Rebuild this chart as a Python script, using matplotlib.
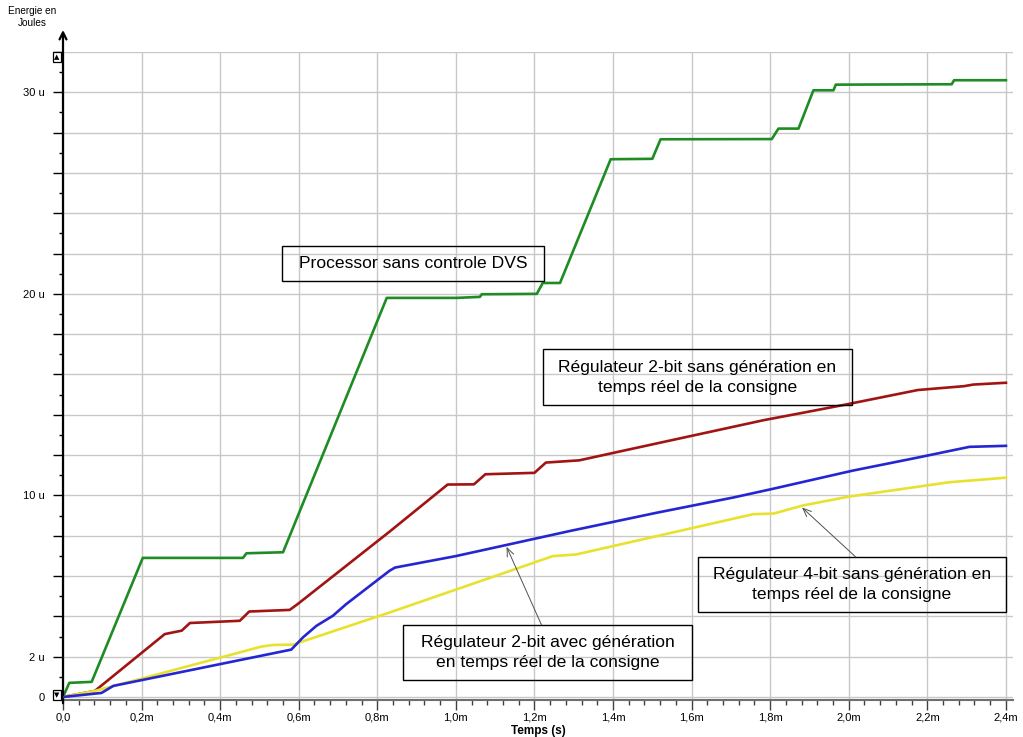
import matplotlib
matplotlib.use('Agg')
import matplotlib.pyplot as plt
from matplotlib.patches import Rectangle
from matplotlib.ticker import MultipleLocator, FuncFormatter

plt.rcParams['font.family'] = ['Liberation Sans', 'DejaVu Sans']

# ---------- DONNEES (temps en ms, energie en uJ) ----------

# Processor sans controle DVS
t_green = [0.0, 0.016, 0.073, 0.203, 0.458, 0.467, 0.56, 0.824, 1.002, 1.061, 1.066,
           1.206, 1.221, 1.265, 1.394, 1.500, 1.521, 1.804, 1.821, 1.872, 1.91,
           1.961, 1.967, 2.262, 2.268, 2.4]
e_green = [0.0, 0.7, 0.75, 6.9, 6.9, 7.13, 7.18, 19.8, 19.8, 19.85, 19.98,
           20.0, 20.54, 20.54, 26.68, 26.7, 27.67, 27.68, 28.2, 28.2, 30.1,
           30.1, 30.38, 30.4, 30.6, 30.6]

# Regulateur 2-bit sans generation
t_red = [0.0, 0.081, 0.259, 0.302, 0.323, 0.450, 0.474, 0.577, 0.598, 0.831, 0.979,
         1.046, 1.075, 1.2, 1.229, 1.314, 1.410, 1.785, 1.883, 1.99, 2.176, 2.293,
         2.317, 2.4]
e_red = [0.0, 0.3, 3.12, 3.29, 3.67, 3.78, 4.24, 4.32, 4.62, 8.2, 10.54,
         10.55, 11.05, 11.12, 11.63, 11.74, 12.15, 13.74, 14.1, 14.5, 15.23, 15.42,
         15.5, 15.59]

# Regulateur 4-bit sans generation
t_yellow = [0.0, 0.081, 0.196, 0.505, 0.535, 0.586, 0.831, 1.247, 1.306, 1.757,
            1.809, 1.883, 2.0, 2.254, 2.4]
e_yellow = [0.0, 0.3, 0.89, 2.5, 2.58, 2.6, 4.19, 6.99, 7.07, 9.07,
            9.1, 9.5, 9.94, 10.65, 10.88]

# Regulateur 2-bit avec generation
t_blue = [0.0, 0.098, 0.128, 0.581, 0.611, 0.645, 0.687, 0.721, 0.831, 0.845, 1.0,
          1.289, 1.511, 1.707, 1.805, 2.01, 2.176, 2.307, 2.4]
e_blue = [0.0, 0.2, 0.55, 2.35, 2.96, 3.53, 4.03, 4.61, 6.26, 6.42, 6.99,
          8.23, 9.14, 9.9, 10.32, 11.23, 11.88, 12.41, 12.46]

y_labels = {0: '0', 2: '2 u', 10: '10 u', 20: '20 u', 30: '30 u'}

label_green = "Processor sans controle DVS"
label_red = "Régulateur 2-bit sans génération en\ntemps réel de la consigne"
label_blue = "Régulateur 2-bit avec génération\nen temps réel de la consigne"
label_yellow = "Régulateur 4-bit sans génération en\ntemps réel de la consigne"


def fmt_x(v, pos):
    if abs(v) < 1e-9:
        return '0,0'
    return f"{v:.1f}m".replace('.', ',')


def fmt_y(v, pos):
    return y_labels.get(int(round(v)), '')


def boxed_label(ax, t0, t1, e0, e1, text):
    # cadre transparent + texte centre
    ax.add_patch(Rectangle((t0, e0), t1 - t0, e1 - e0, fill=False,
                           edgecolor='black', linewidth=1.0, zorder=6))
    ax.text((t0 + t1) / 2, (e0 + e1) / 2, text, ha='center', va='center',
            fontsize=12.6, linespacing=1.45, zorder=7)


def plot_energy():
    fig = plt.figure(figsize=(10.23, 7.37), dpi=100)
    ax = fig.add_axes([63 / 1023, 37 / 737, 950 / 1023, 648 / 737])

    ax.plot(t_green, e_green, color='#1e8c23', lw=1.9, zorder=3)
    ax.plot(t_red, e_red, color='#a01414', lw=1.9, zorder=3)
    ax.plot(t_yellow, e_yellow, color='#e8e22e', lw=1.9, zorder=3)
    ax.plot(t_blue, e_blue, color='#2525d2', lw=1.9, zorder=4)

    ax.set_xlim(0, 2.418)
    ax.set_ylim(-0.15, 32)

    ax.xaxis.set_major_locator(MultipleLocator(0.2))
    ax.xaxis.set_minor_locator(MultipleLocator(0.04))
    ax.yaxis.set_major_locator(MultipleLocator(2))
    ax.yaxis.set_minor_locator(MultipleLocator(1))
    ax.xaxis.set_major_formatter(FuncFormatter(fmt_x))
    ax.yaxis.set_major_formatter(FuncFormatter(fmt_y))

    ax.grid(True, which='major', color='#c8c8c8', lw=1.0, zorder=0)
    ax.set_axisbelow(True)

    ax.tick_params(axis='x', which='major', length=7, width=1, color='#404040',
                   labelsize=8, pad=2)
    ax.tick_params(axis='x', which='minor', length=3.5, width=1, color='#404040')
    ax.tick_params(axis='y', which='major', length=7, width=1, color='black',
                   labelsize=8, pad=6)
    ax.tick_params(axis='y', which='minor', length=3, width=1, color='black')

    for side in ['top', 'right', 'left']:
        ax.spines[side].set_visible(False)
    ax.spines['bottom'].set_color('#707070')
    ax.spines['bottom'].set_linewidth(1.5)

    # axe vertical avec fleche
    ax.annotate('', xy=(0, 1 + 22 / 648), xytext=(0, -0.005), xycoords='axes fraction',
                arrowprops=dict(arrowstyle='->,head_length=0.5,head_width=0.25',
                                lw=1.6, color='black', shrinkA=0, shrinkB=0),
                annotation_clip=False)

    ax.set_xlabel('Temps (s)', fontsize=8.5, fontweight='bold', va='center')
    ax.xaxis.set_label_coords(0.5, -31 / 648)
    fig.text(32 / 1023, 1 - 17 / 737, 'Energie en\nJoules', ha='center', va='center',
             fontsize=7.2, linespacing=1.35)

    # petits boutons de defilement
    for ypix, sym in [(57, '▲'), (695, '▼')]:
        fig.text(57 / 1023, 1 - ypix / 737, sym, ha='center', va='center', fontsize=5,
                 family='DejaVu Sans',
                 bbox=dict(boxstyle='square,pad=0.25', fc='white', ec='black', lw=0.9))

    # cadres d'annotation
    boxed_label(ax, 0.558, 1.223, 20.62, 22.36, label_green)
    boxed_label(ax, 1.222, 2.008, 14.48, 17.25, label_red)
    boxed_label(ax, 0.866, 1.602, 0.84, 3.57, label_blue)
    boxed_label(ax, 1.616, 2.4, 4.21, 6.94, label_yellow)

    arrow = dict(arrowstyle='->,head_length=0.6,head_width=0.25', lw=0.7,
                 color='#505050', shrinkA=0, shrinkB=0)
    ax.annotate('', xy=(1.129, 7.45), xytext=(1.218, 3.57), arrowprops=arrow, zorder=8)
    ax.annotate('', xy=(1.881, 9.4), xytext=(2.018, 6.94), arrowprops=arrow, zorder=8)

    fig.savefig('out.png', dpi=100)


if __name__ == "__main__":
    plot_energy()
